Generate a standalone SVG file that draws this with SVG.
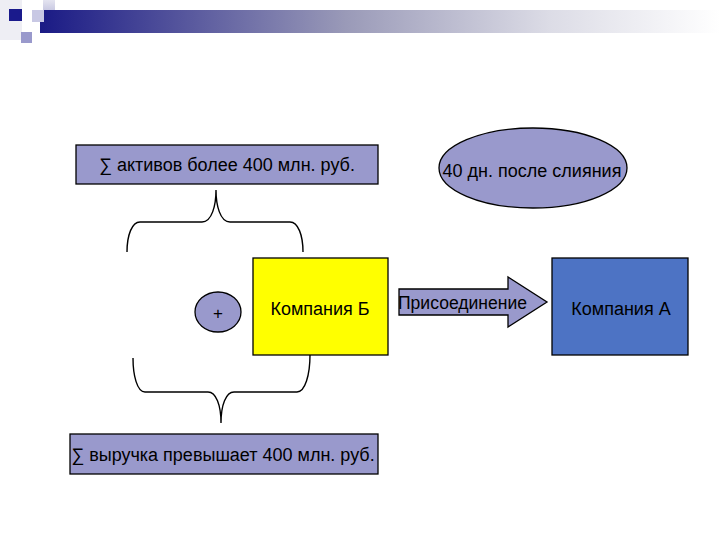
<svg xmlns="http://www.w3.org/2000/svg" width="720" height="540" viewBox="0 0 720 540">
<defs>
<linearGradient id="bar" x1="0" y1="0" x2="1" y2="0">
<stop offset="0" stop-color="#1A1A85"/>
<stop offset="0.45" stop-color="#9A9AB8"/>
<stop offset="0.75" stop-color="#DCDCE6"/>
<stop offset="1" stop-color="#FFFFFF"/>
</linearGradient>
<linearGradient id="topsq" x1="0" y1="0" x2="0" y2="1">
<stop offset="0" stop-color="#E4E4F0"/>
<stop offset="1" stop-color="#C4C4E0"/>
</linearGradient>
</defs>
<style>
.box{stroke:#000;stroke-width:1.3}
.lav{fill:#9999CC}
.t{font-family:"Liberation Sans",Arial,sans-serif;font-size:18px;fill:#000;dominant-baseline:central}
.brace{fill:none;stroke:#000;stroke-width:1.4}
</style>
<rect width="720" height="540" fill="#FFFFFF"/>
<g id="header">
<rect x="0" y="0" width="22" height="40" fill="#EEEEF4"/>
<rect x="43" y="0" width="12" height="12" fill="url(#topsq)"/>
<rect x="40" y="10" width="680" height="23" fill="url(#bar)"/>
<rect x="32" y="10" width="12" height="12" fill="#C8C8E4"/>
<rect x="9" y="9" width="13" height="12" fill="#1A1A8C"/>
<rect x="21" y="32" width="11" height="11" fill="#9999CC"/>
</g>
<g id="assets">
<rect class="box lav" x="76" y="145" width="302" height="39"/>
<text class="t" x="227" y="165" text-anchor="middle">∑ активов более 400 млн. руб.</text>
</g>
<g id="days">
<ellipse class="box lav" cx="533" cy="168" rx="94" ry="40"/>
<text class="t" x="532" y="171" text-anchor="middle">40 дн. после слияния</text>
</g>
<g id="plus">
<ellipse class="box lav" cx="218" cy="312" rx="23" ry="20" stroke-width="1"/>
<text class="t" x="218" y="313" text-anchor="middle" style="font-size:17px;font-weight:300">+</text>
</g>
<g id="companyB">
<rect class="box" x="253" y="258" width="135" height="97" fill="#FFFF00"/>
<text class="t" x="320" y="309" text-anchor="middle">Компания Б</text>
</g>
<g id="merge">
<polygon class="box lav" points="399,289 508,289 508,277 547,302 508,327 508,315 399,315"/>
<text class="t" x="398" y="303" textLength="129" lengthAdjust="spacingAndGlyphs">Присоединение</text>
</g>
<g id="companyA">
<rect class="box" x="552" y="258" width="136" height="97" fill="#4D73C4"/>
<text class="t" x="621" y="309" text-anchor="middle">Компания А</text>
</g>
<g id="revenue">
<rect class="box lav" x="70" y="434" width="308" height="40"/>
<text class="t" x="223" y="455" text-anchor="middle">∑ выручка превышает 400 млн. руб.</text>
</g>
<g id="connectors">
<path class="brace" d="M127,252 C127,235 132,222 140,222 L202,222 C212,222 216,205 216,190 C216,205 220,222 230,222 L290,222 C298,222 303,235 303,252"/>
<path class="brace" d="M133,358 C133,375 137,392 145,392 L208,392 C216,392 221,405 221,423 C221,405 226,392 234,392 L297,392 C305,392 310,375 310,355"/>
</g>
</svg>
